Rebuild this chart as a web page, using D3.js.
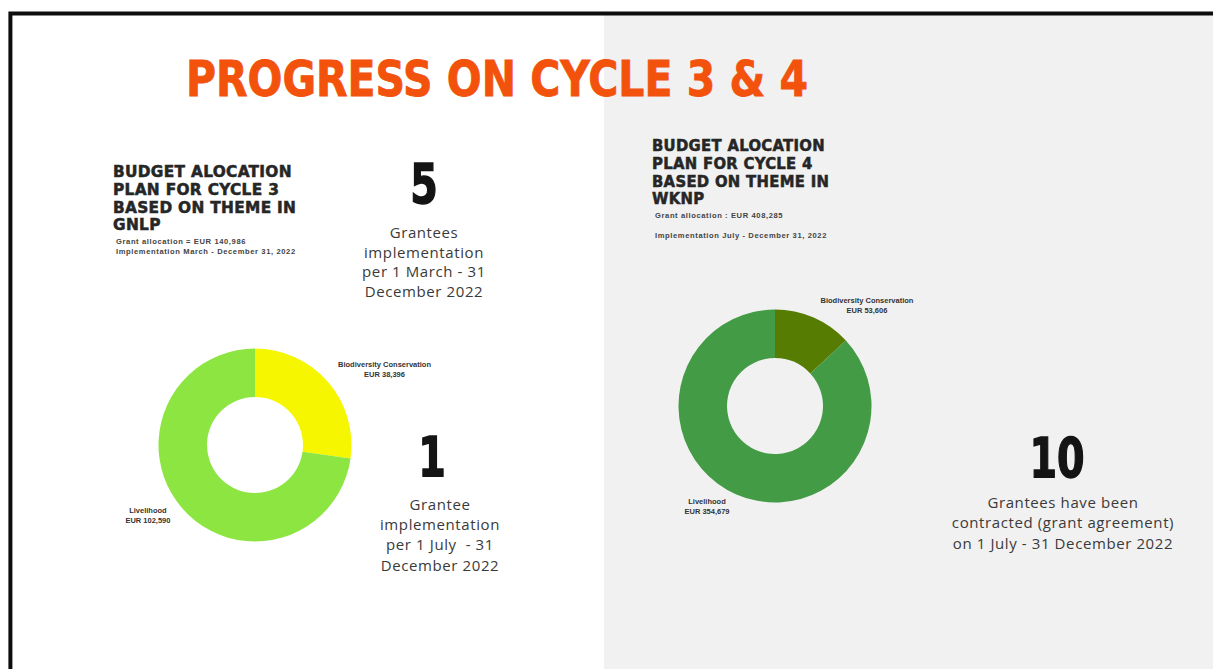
<!DOCTYPE html>
<html>
<head>
<meta charset="utf-8">
<script src="https://cdn.jsdelivr.net/npm/d3@7"></script>
<style>
  html, body { margin: 0; padding: 0; background: #ffffff; }
  svg { display: block; }
</style>
</head>
<body>
<svg id="slide" width="1213" height="669"></svg>
<script>
// ---- Data ----
const slideTitle = "PROGRESS ON CYCLE 3 & 4";

const themes = ["Biodiversity Conservation", "Livelihood"];

// Cycle 3 (GNLP) budget by theme, EUR
const cycle3Values = [38396, 102590];
const cycle3Heading = ["BUDGET ALOCATION", "PLAN FOR CYCLE 3", "BASED ON THEME IN", "GNLP"];
const cycle3Notes = ["Grant allocation = EUR 140,986", "Implementation March - December 31, 2022"];

// Cycle 4 (WKNP) budget by theme, EUR
const cycle4Values = [53606, 354679];
const cycle4Heading = ["BUDGET ALOCATION", "PLAN FOR CYCLE 4", "BASED ON THEME IN", "WKNP"];
const cycle4Notes = ["Grant allocation : EUR 408,285", "Implementation July - December 31, 2022"];

// Grantee counts and captions
const granteeCounts = [5, 1, 10];
const granteeCaptions = [
  ["Grantees", "implementation", "per 1 March - 31", "December 2022"],
  ["Grantee", "implementation", "per 1 July  - 31", "December 2022"],
  ["Grantees have been", "contracted (grant agreement)", "on 1 July - 31 December 2022"]
];

// ---- Layout & style ----
const W = 1213, H = 669;
const svg = d3.select("#slide");
const condensed = "'Liberation Sans Narrow', 'DejaVu Sans Condensed', sans-serif";
const body = "'Open Sans', 'Noto Sans', sans-serif";

// grey right-hand panel
svg.append("rect")
  .attr("x", 604).attr("y", 15).attr("width", W - 604).attr("height", H - 15)
  .attr("fill", "#f1f1f1");

// frame line (top and left)
svg.append("path")
  .attr("d", d3.line()([[10.4, H], [10.4, 13.6], [W, 13.6]]))
  .attr("fill", "none").attr("stroke", "#0d0d0d").attr("stroke-width", 4);

// slide title
svg.append("text")
  .attr("x", 186).attr("y", 96)
  .attr("textLength", 622).attr("lengthAdjust", "spacingAndGlyphs")
  .attr("font-family", condensed).attr("font-weight", 700)
  .attr("font-size", 50).attr("fill", "#f2520c")
  .attr("stroke", "#f2520c").attr("stroke-width", 0.8)
  .text(slideTitle);

// block heading: squeezed horizontally so its first line spans `width`
function heading(lines, notes, x, y0, width, noteY) {
  const g = svg.append("g");
  const hs = g.selectAll("text.h").data(lines).join("text")
    .attr("class", "h")
    .attr("x", 0).attr("y", (d, i) => y0 + i * 17.8)
    .attr("font-family", condensed).attr("font-weight", 700)
    .attr("font-size", 16.5).attr("letter-spacing", 0.3)
    .attr("fill", "#262626")
    .attr("stroke", "#262626").attr("stroke-width", 0.5)
    .text(d => d);
  const k = width / hs.node().getComputedTextLength();
  g.attr("transform", `translate(${x},0) scale(${k},1)`);

  svg.append("g").selectAll("text").data(notes).join("text")
    .attr("x", x + 3).attr("y", (d, i) => noteY[i])
    .attr("font-family", "'Liberation Sans', Arial, sans-serif").attr("font-weight", 700)
    .attr("font-size", 7.6).attr("letter-spacing", 0.6)
    .attr("fill", "#444")
    .text(d => d);
}
heading(cycle3Heading, cycle3Notes, 113, 177, 179, [243.5, 254]);
heading(cycle4Heading, cycle4Notes, 652, 151, 173, [217.5, 237.5]);

function bigNumber(value, caption, cx, numY, capCx, capY0, step) {
  svg.append("text")
    .attr("transform", `translate(${cx},${numY}) scale(0.8,1)`)
    .attr("text-anchor", "middle")
    .attr("font-family", condensed).attr("font-weight", 700)
    .attr("font-size", 55).attr("fill", "#141414")
    .attr("stroke", "#141414").attr("stroke-width", 1.4)
    .text(value);
  svg.append("g").selectAll("text").data(caption).join("text")
    .attr("x", capCx).attr("y", (d, i) => capY0 + i * step)
    .attr("text-anchor", "middle")
    .attr("font-family", body).attr("font-size", 15)
    .attr("letter-spacing", 0.6).attr("fill", "#3a3a3a")
    .attr("xml:space", "preserve")
    .text(d => d);
}
bigNumber(granteeCounts[0], granteeCaptions[0], 424, 203, 424, 238, 19.6);
bigNumber(granteeCounts[1], granteeCaptions[1], 432, 476, 440, 510, 20.2);
bigNumber(granteeCounts[2], granteeCaptions[2], 1057, 477, 1063, 508, 20.3);

// ---- Donuts ----
const fmt = d3.format(",");
function donut(values, colors, cx, cy, labelPos) {
  const data = themes.map((t, i) => ({ theme: t, value: values[i], color: colors[i] }));
  const pie = d3.pie().value(d => d.value).sort(null);
  const arc = d3.arc().innerRadius(48).outerRadius(96.5);
  const g = svg.append("g").attr("transform", `translate(${cx},${cy})`);
  g.selectAll("path").data(pie(data)).join("path")
    .attr("d", arc).attr("fill", d => d.data.color);

  // outside labels, placed by polar angle/radius
  const lab = g.selectAll("g.lab").data(data).join("g").attr("class", "lab")
    .attr("transform", (d, i) => {
      const a = labelPos[i].angle * Math.PI / 180, r = labelPos[i].r;
      return `translate(${r * Math.sin(a)},${-r * Math.cos(a)})`;
    });
  lab.selectAll("text").data(d => [d.theme, "EUR " + fmt(d.value)]).join("text")
    .attr("y", (d, i) => i === 0 ? -2 : 8)
    .attr("text-anchor", "middle")
    .attr("font-family", "'Liberation Sans', Arial, sans-serif").attr("font-weight", 700)
    .attr("font-size", 7.5).attr("fill", "#333")
    .text(d => d);
}
donut(cycle3Values, ["#f6f600", "#8de541"], 255, 445,
  [{ angle: 59.7, r: 150 }, { angle: 236.8, r: 128 }]);
donut(cycle4Values, ["#577c02", "#439b45"], 775, 406,
  [{ angle: 42.3, r: 136.6 }, { angle: 214.2, r: 121 }]);
</script>
</body>
</html>
